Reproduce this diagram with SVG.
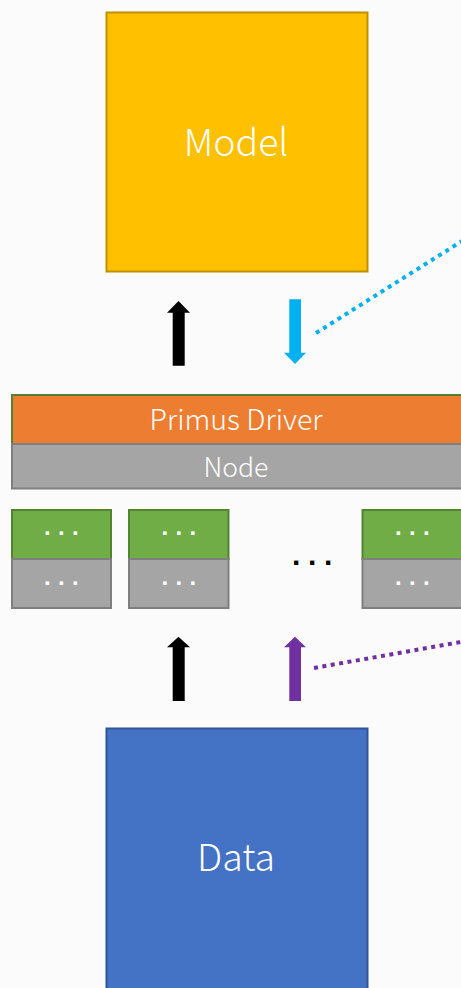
<svg xmlns="http://www.w3.org/2000/svg" width="461" height="988" viewBox="0 0 461 988">
<style>
.lbl{font-family:"Noto Sans CJK KR","Noto Sans",sans-serif;font-weight:300;fill:#fff;text-anchor:middle}
.dots{font-family:"Liberation Sans",sans-serif;font-weight:bold;fill:#fff;text-anchor:middle;font-size:24px;letter-spacing:7.3px}
.g{fill:#70AD47;stroke:#548235;stroke-width:2}
.s{fill:#A5A5A5;stroke:#7F7F7F;stroke-width:2}
</style>
<rect width="461" height="988" fill="#FBFBFB"/>
<g id="model">
<rect x="106.5" y="12.5" width="261" height="259" fill="#FFC000" stroke="#BF9000" stroke-width="2"/>
<text class="lbl" x="236" y="155.5" font-size="37.5">Model</text>
</g>
<g id="driver">
<rect x="12" y="395" width="460" height="49" fill="#ED7D31" stroke="#548235" stroke-width="2"/>
<text class="lbl" x="236" y="430" font-size="28.5">Primus Driver</text>
</g>
<g id="node">
<rect x="12" y="444" width="460" height="44.5" fill="#A5A5A5" stroke="#7F7F7F" stroke-width="2"/>
<text class="lbl" x="236" y="476.5" font-size="26.5">Node</text>
</g>
<g id="worker1">
<rect class="g" x="12" y="510" width="99" height="49"/>
<rect class="s" x="12" y="559" width="99" height="49"/>
<text class="dots" x="65" y="535">...</text>
<text class="dots" x="65" y="584.5">...</text>
</g>
<g id="worker2">
<rect class="g" x="129" y="510" width="99.5" height="49"/>
<rect class="s" x="129" y="559" width="99.5" height="49"/>
<text class="dots" x="182.5" y="535">...</text>
<text class="dots" x="182.5" y="584.5">...</text>
</g>
<g id="worker3">
<rect class="g" x="362.5" y="510" width="110" height="49"/>
<rect class="s" x="362.5" y="559" width="110" height="49"/>
<text class="dots" x="416" y="535">...</text>
<text class="dots" x="416" y="584.5">...</text>
</g>
<text x="316" y="565" font-family="Liberation Sans,sans-serif" font-weight="bold" font-size="30" letter-spacing="7.7" fill="#000" text-anchor="middle">...</text>
<g id="data">
<rect x="106.5" y="728.5" width="261" height="270" fill="#4472C4" stroke="#2F5597" stroke-width="2"/>
<text class="lbl" x="236" y="870.5" font-size="37.5">Data</text>
</g>
<g id="connectors">
<polygon points="178.5,301 190,312.7 184.7,312.7 184.7,365.7 172.7,365.7 172.7,312.7 167,312.7" fill="#000"/>
<polygon points="289.3,299.3 301,299.3 301,352.7 306,352.7 295,364 284,352.7 289.3,352.7" fill="#00B0F0"/>
<polygon points="178.5,636.7 190,647.3 184.7,647.3 184.7,701 172.7,701 172.7,647.3 167,647.3" fill="#000"/>
<polygon points="295,636.7 306,647.3 301,647.3 301,701 289.3,701 289.3,647.3 284,647.3" fill="#7030A0"/>
<line x1="316" y1="333" x2="470" y2="236" stroke="#00B0F0" stroke-width="4" stroke-dasharray="4 4.5"/>
<line x1="314" y1="668" x2="470" y2="640.4" stroke="#7030A0" stroke-width="4" stroke-dasharray="4 4.5"/>
</g>
</svg>
